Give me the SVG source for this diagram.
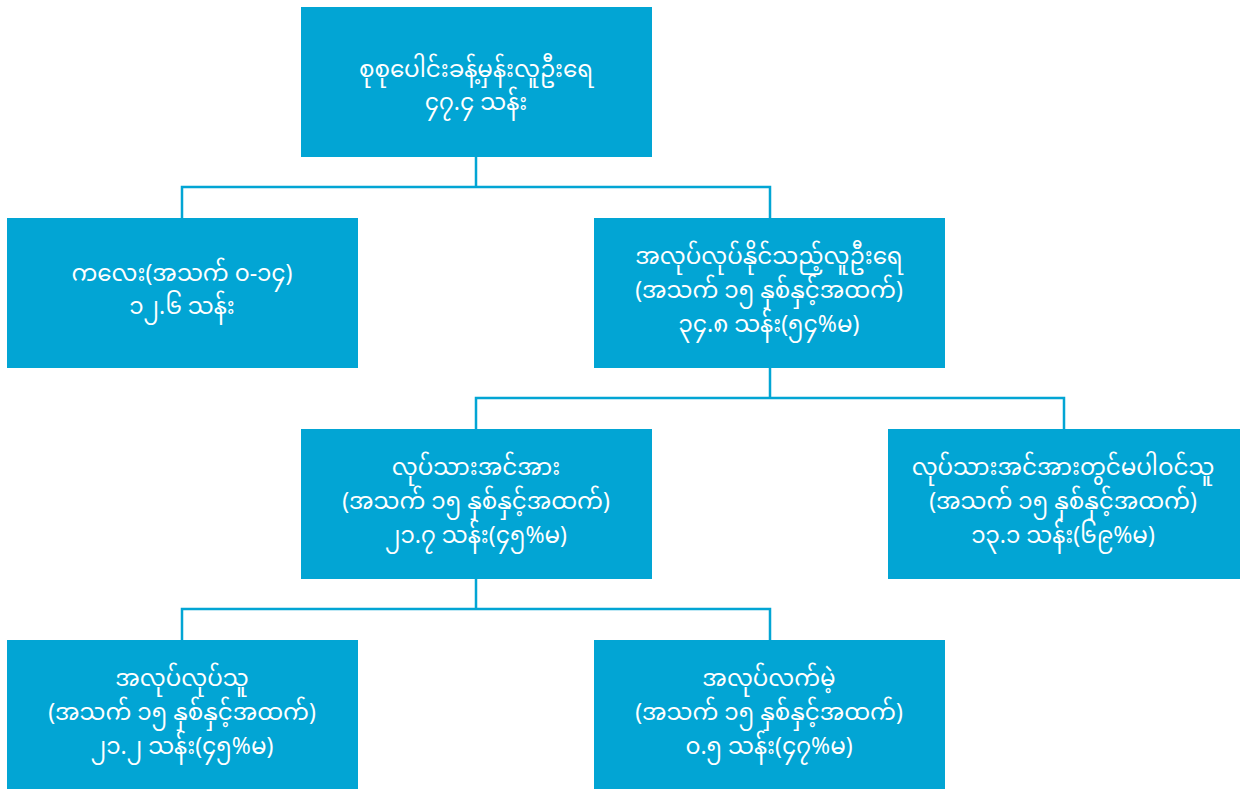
<svg xmlns="http://www.w3.org/2000/svg" width="1240" height="789" viewBox="0 0 1240 789">
<style>
.box{fill:#02A5D4}
.t{fill:#FFFFFF;font-family:"Noto Sans Myanmar","Padauk","Myanmar Text","Noto Sans","DejaVu Sans",sans-serif;font-size:23px;text-anchor:middle;dominant-baseline:central}
.c{fill:none;stroke:#02A5D4;stroke-width:2.5}
</style>
<rect width="1240" height="789" fill="#FFFFFF"/>
<g id="connectors">
<path class="c" d="M476,157 V187 M182,218 V187 H770 V218"/>
<path class="c" d="M770,368 V398 M476,429 V398 H1064 V429"/>
<path class="c" d="M476,579 V609 M182,640 V609 H770 V640"/>
</g>
<g id="n1">
<rect class="box" x="301" y="7" width="351" height="150"/>
<text class="t" x="476" y="72">စုစုပေါင်းခန့်မှန်းလူဦးရေ</text>
<text class="t" x="476" y="105">၄၇.၄ သန်း</text>
</g>
<g id="n2">
<rect class="box" x="7" y="218" width="351" height="150"/>
<text class="t" x="182" y="276">ကလေး(အသက် ၀-၁၄)</text>
<text class="t" x="182" y="309">၁၂.၆ သန်း</text>
</g>
<g id="n3">
<rect class="box" x="594" y="218" width="351" height="150"/>
<text class="t" x="769" y="259">အလုပ်လုပ်နိုင်သည့်လူဦးရေ</text>
<text class="t" x="769" y="293">(အသက် ၁၅ နှစ်နှင့်အထက်)</text>
<text class="t" x="769" y="327">၃၄.၈ သန်း(၅၄%မ)</text>
</g>
<g id="n4">
<rect class="box" x="301" y="429" width="351" height="150"/>
<text class="t" x="476" y="470">လုပ်သားအင်အား</text>
<text class="t" x="476" y="504">(အသက် ၁၅ နှစ်နှင့်အထက်)</text>
<text class="t" x="476" y="538">၂၁.၇ သန်း(၄၅%မ)</text>
</g>
<g id="n5">
<rect class="box" x="888" y="429" width="352" height="150"/>
<text class="t" x="1063" y="470">လုပ်သားအင်အားတွင်မပါဝင်သူ</text>
<text class="t" x="1063" y="504">(အသက် ၁၅ နှစ်နှင့်အထက်)</text>
<text class="t" x="1063" y="538">၁၃.၁ သန်း(၆၉%မ)</text>
</g>
<g id="n6">
<rect class="box" x="7" y="640" width="351" height="149"/>
<text class="t" x="182" y="681">အလုပ်လုပ်သူ</text>
<text class="t" x="182" y="715">(အသက် ၁၅ နှစ်နှင့်အထက်)</text>
<text class="t" x="182" y="749">၂၁.၂ သန်း(၄၅%မ)</text>
</g>
<g id="n7">
<rect class="box" x="594" y="640" width="351" height="149"/>
<text class="t" x="769" y="681">အလုပ်လက်မဲ့</text>
<text class="t" x="769" y="715">(အသက် ၁၅ နှစ်နှင့်အထက်)</text>
<text class="t" x="769" y="749">၀.၅ သန်း(၄၇%မ)</text>
</g>
</svg>
